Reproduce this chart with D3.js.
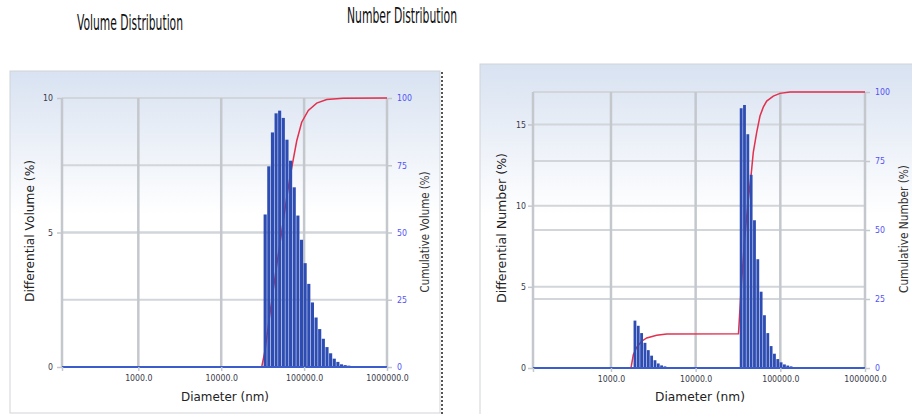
<!DOCTYPE html>
<html>
<head>
<meta charset="utf-8">
<script src="https://cdn.jsdelivr.net/npm/d3@7"></script>
<style>
  body { margin: 0; background: #fff; }
  svg { display: block; }
  text { font-family: "DejaVu Sans", Verdana, sans-serif; }
</style>
</head>
<body>
<div id="chart"></div>
<script>
// x axis ticks (nm)
var xTickValues = [1000, 10000, 100000, 1000000];
var xMin = 120, xMax = 1000000;

// volume distribution - bars (bin centre diameter, %)
var volDiameters = [33900, 37500, 41500, 45900, 50700, 56100, 62100, 68700, 76000, 84100,
                    93000, 102900, 113900, 126000, 139400, 154200, 170600, 188800, 208900, 231100,
                    255600, 282800, 312900, 346200, 383000];
var volValues = [5.67, 7.46, 8.72, 9.43, 9.53, 9.26, 8.45, 7.67, 6.68, 5.63,
                 4.73, 3.86, 3.09, 2.40, 1.84, 1.41, 1.05, 0.74, 0.51, 0.31,
                 0.19, 0.10, 0.07, 0.05, 0.03];
// volume distribution - cumulative curve
var volCumDiameters = [120, 30800, 33700, 38000, 45800, 51200, 61700, 67600, 81400, 93500,
                       112400, 141900, 187300, 297000, 1000000];
var volCumValues = [0, 0, 6, 18, 36, 46, 63, 70.7, 84, 91,
                    95.4, 98.1, 99.4, 99.9, 100];

// number distribution - bars
var numDiameters = [1920, 2100, 2300, 2520, 2760, 3020, 3310, 3620, 3960, 4340, 4750, 5200,
                    34480, 37740, 41310, 45220, 49510, 54200, 59330, 64950, 71110, 77840,
                    85210, 93280, 102100, 111800, 122400, 134000, 146600];
var numValues = [2.92, 2.60, 2.15, 1.55, 1.10, 0.76, 0.48, 0.28, 0.16, 0.10, 0.06, 0.03,
                 16.0, 16.2, 14.4, 11.9, 9.1, 6.7, 4.7, 3.25, 2.15, 1.35,
                 0.88, 0.55, 0.35, 0.22, 0.15, 0.10, 0.05];
// number distribution - cumulative curve
var numCumDiameters = [120, 1724, 1835, 2012, 2307, 2642, 3467, 4550, 32060, 34320,
                       37740, 41500, 45040, 47940, 52590, 57520, 62920, 69020, 82590, 99100,
                       130100, 1000000];
var numCumValues = [0, 0, 4.8, 7.5, 9.7, 10.9, 11.9, 12.3, 12.4, 28,
                    46, 60, 69.5, 78.1, 85.4, 91.3, 94.5, 96.7, 98.5, 99.5,
                    100, 100];

var volLeftTicks = [0, 5, 10];
var numLeftTicks = [0, 5, 10, 15];
var rightTicks = [0, 25, 50, 75, 100];

var svg = d3.select("#chart").append("svg")
    .attr("width", 912)
    .attr("height", 414);

var defs = svg.append("defs");
var grad = defs.append("linearGradient")
    .attr("id", "panelGrad")
    .attr("x1", 0).attr("y1", 0).attr("x2", 0).attr("y2", 1);
grad.append("stop").attr("offset", "0%").attr("stop-color", "#d8e2f1");
grad.append("stop").attr("offset", "42%").attr("stop-color", "#ffffff");

// squeeze text horizontally, the source fonts are narrow
function squeeze(sel, f) {
  sel.each(function() {
    var w = this.getComputedTextLength();
    d3.select(this).attr("textLength", w * f).attr("lengthAdjust", "spacingAndGlyphs");
  });
}

function drawChart(c) {
  var g = svg.append("g");

  // panel
  g.append("rect")
    .attr("x", c.panel[0]).attr("y", c.panel[1])
    .attr("width", c.panel[2]).attr("height", c.panel[3])
    .attr("fill", "url(#panelGrad)")
    .attr("stroke", "#cfd3d8");

  var x = d3.scaleLog().domain([xMin, xMax]).range([c.left, c.right]);
  var yL = d3.scaleLinear().domain([0, c.yMax]).range([c.bottom, c.top]);
  var yR = d3.scaleLinear().domain([0, 100]).range([c.bottom, c.top]);

  // horizontal grid (from both y axes)
  var hg = c.leftTicks.filter(function(d) { return d > 0; }).map(yL)
    .concat(rightTicks.filter(function(d) { return d > 0; }).map(yR));
  g.append("g").selectAll("line").data(hg).enter().append("line")
    .attr("x1", c.left).attr("x2", c.right)
    .attr("y1", function(d) { return d; }).attr("y2", function(d) { return d; })
    .attr("stroke", "#d2d5d9").attr("stroke-width", 2);

  // vertical grid + left edge
  g.append("g").selectAll("line").data([xMin].concat(xTickValues)).enter().append("line")
    .attr("x1", function(d) { return x(d); }).attr("x2", function(d) { return x(d); })
    .attr("y1", c.top).attr("y2", c.bottom)
    .attr("stroke", "#c4c8cd").attr("stroke-width", 2.5);

  // cumulative curve (behind the bars)
  var line = d3.line()
    .x(function(d) { return x(d[0]); })
    .y(function(d) { return yR(d[1]); });
  g.append("path")
    .datum(d3.zip(c.cumD, c.cumV))
    .attr("d", line)
    .attr("fill", "none")
    .attr("stroke", "#e2304f")
    .attr("stroke-width", 1.5);

  // bars, log-width taken from the neighbour bins
  var px = c.diam.map(function(d) { return x(d); });
  var bars = c.diam.map(function(d, i) {
    var gaps = [];
    if (i > 0) gaps.push(px[i] - px[i - 1]);
    if (i < px.length - 1) gaps.push(px[i + 1] - px[i]);
    return { cx: px[i], w: d3.min(gaps), v: c.vals[i] };
  });
  g.append("g").selectAll("rect").data(bars).enter().append("rect")
    .attr("x", function(d) { return d.cx - d.w / 2 + 0.25; })
    .attr("width", function(d) { return d.w - 0.5; })
    .attr("y", function(d) { return yL(d.v); })
    .attr("height", function(d) { return yL(0) - yL(d.v); })
    .attr("fill", "#2e4db3");

  // differential baseline
  g.append("line")
    .attr("x1", c.left).attr("x2", c.right)
    .attr("y1", yL(0)).attr("y2", yL(0))
    .attr("stroke", "#3b5dcc").attr("stroke-width", 2);

  // axes
  var ax = g.append("g")
    .attr("transform", "translate(0," + c.bottom + ")")
    .call(d3.axisBottom(x).tickValues([xMin].concat(xTickValues))
      .tickFormat(function(d) { return d === xMin ? "" : d.toFixed(1); })
      .tickSize(4).tickPadding(4));
  var al = g.append("g")
    .attr("transform", "translate(" + c.left + ",0)")
    .call(d3.axisLeft(yL).tickValues(c.leftTicks).tickSize(5).tickPadding(c.lPad));
  var ar = g.append("g")
    .attr("transform", "translate(" + c.right + ",0)")
    .call(d3.axisRight(yR).tickValues(rightTicks).tickSize(5).tickPadding(5));

  [ax, al, ar].forEach(function(a) {
    a.select(".domain").remove();
    a.selectAll("line").attr("stroke", "#c4c8cd").attr("stroke-width", 1.5);
    a.selectAll("text").style("font-size", "9px").attr("fill", "#3a3a4a");
    squeeze(a.selectAll("text"), 0.87);
  });
  ar.selectAll("text").attr("fill", "#5252f5");

  // axis titles
  g.append("text")
    .attr("x", c.xTitle[0]).attr("y", c.xTitle[1])
    .attr("text-anchor", "middle")
    .style("font-size", "13px").attr("fill", "#222")
    .attr("textLength", c.xTitle[2]).attr("lengthAdjust", "spacingAndGlyphs")
    .text("Diameter (nm)");
  g.append("text")
    .attr("transform", "translate(" + c.yTitle[0] + "," + c.yTitle[1] + ") rotate(-90)")
    .attr("text-anchor", "middle")
    .style("font-size", "13px").attr("fill", "#222")
    .attr("textLength", c.yTitle[2]).attr("lengthAdjust", "spacingAndGlyphs")
    .text(c.yLabel);
  g.append("text")
    .attr("transform", "translate(" + c.rTitle[0] + "," + c.rTitle[1] + ") rotate(-90)")
    .attr("text-anchor", "middle")
    .style("font-size", "12px").attr("fill", "#333")
    .attr("textLength", c.rTitle[2]).attr("lengthAdjust", "spacingAndGlyphs")
    .text(c.rLabel);

  // chart title
  svg.append("text")
    .attr("x", c.title[0]).attr("y", c.title[1])
    .style("font-size", "22px").attr("fill", "#111")
    .attr("textLength", c.title[2]).attr("lengthAdjust", "spacingAndGlyphs")
    .text(c.titleText);
}

drawChart({
  panel: [10, 71, 430, 342],
  left: 62, right: 387, top: 98, bottom: 367,
  yMax: 10, leftTicks: volLeftTicks, lPad: 4,
  diam: volDiameters, vals: volValues,
  cumD: volCumDiameters, cumV: volCumValues,
  xTitle: [225, 401, 88], yTitle: [34, 231, 142], rTitle: [429, 232, 121],
  yLabel: "Differential Volume (%)", rLabel: "Cumulative Volume (%)",
  title: [77, 30, 106], titleText: "Volume Distribution"
});

drawChart({
  panel: [480, 64, 450, 360],
  left: 533, right: 865, top: 92, bottom: 368,
  yMax: 17, leftTicks: numLeftTicks, lPad: 2,
  diam: numDiameters, vals: numValues,
  cumD: numCumDiameters, cumV: numCumValues,
  xTitle: [700, 401, 90], yTitle: [506, 228, 150], rTitle: [908, 229, 128],
  yLabel: "Differential Number (%)", rLabel: "Cumulative Number (%)",
  title: [347, 23, 110], titleText: "Number Distribution"
});

// selection border on the right of the first panel
svg.append("line")
  .attr("x1", 442).attr("x2", 442).attr("y1", 72).attr("y2", 414)
  .attr("stroke", "#555").attr("stroke-width", 2)
  .attr("stroke-dasharray", "2,2");
</script>
</body>
</html>
